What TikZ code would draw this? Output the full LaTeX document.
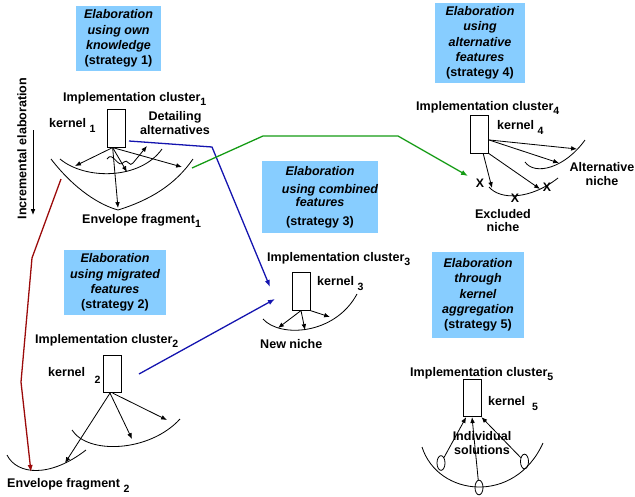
\documentclass[tikz,border=0pt]{standalone}
\usepackage{fontspec}
\setmainfont{Liberation Sans}
\usetikzlibrary{shapes.geometric,arrows.meta}
\definecolor{stratblue}{RGB}{135,205,255}
\definecolor{linkblue}{RGB}{20,20,175}
\definecolor{linkgreen}{RGB}{20,155,20}
\definecolor{linkred}{RGB}{155,10,10}
\newcommand\lowsub[2][-3.5pt]{\raisebox{#1}{\fontsize{9}{9}\selectfont #2}}
\tikzset{
  stratbox/.style={fill=stratblue, inner sep=0pt, align=center,
    font=\fontsize{10.7}{13}\selectfont\bfseries\itshape},
  kbox/.style={draw, line width=0.7pt, minimum width=0.54cm, minimum height=1.12cm, inner sep=0pt},
  lbl/.style={anchor=base west, inner sep=0pt, font=\fontsize{10.7}{11.3}\selectfont\bfseries},
  lbltwo/.style={lbl, anchor=center, align=center},
  xmark/.style={inner sep=0pt, font=\fontsize{10.5}{10.5}\selectfont\bfseries},
  sol/.style={draw, line width=0.7pt, ellipse, minimum width=0.24cm, minimum height=0.44cm, inner sep=0pt},
  thin/.style={line width=0.7pt},
  arr/.style={line width=0.7pt, -{Latex[length=5pt,width=4pt]}},
  link/.style={line width=1.1pt, -{Latex[length=6pt,width=4.5pt]}},
}
\begin{document}
\begin{tikzpicture}[x=0.03cm, y=-0.03cm]
\useasboundingbox (0,0) rectangle (635,497);

% strategies
\node[stratbox, minimum width=2.55cm, minimum height=1.95cm] (s1) at (118.5,38.5)
  {Elaboration\\using own\\knowledge\\\upshape(strategy 1)};
\node[stratbox, minimum width=3.06cm, minimum height=1.95cm] (s2) at (115,282.5)
  {Elaboration\\using migrated\\features\\\upshape(strategy 2)};
\node[stratbox, minimum width=3.45cm, minimum height=2.16cm] (s3) at (320,197)
  {Elaboration\\[3pt]\hspace*{17pt}using combined\\[-2pt]features\\[3pt]\upshape(strategy 3)};
\node[stratbox, minimum width=2.7cm, minimum height=2.4cm] (s4) at (480,43)
  {Elaboration\\using\\alternative\\features\\\upshape(strategy 4)};
\node[stratbox, minimum width=2.76cm, minimum height=2.58cm] (s5) at (478,295)
  {Elaboration\\through\hspace*{12pt}\\kernel\hspace*{14pt}\\aggregation\hspace*{8pt}\\\upshape(strategy 5)};

% incremental elaboration
\node[lbl, anchor=center, rotate=90] (inc) at (22,148.5) {Incremental elaboration};
\coordinate (incA) at (33,130);
\coordinate (incB) at (33,215);
\draw[arr] (incA) -- (incB);

% cluster 1
\node[lbl] (c1) at (63,101) {Implementation cluster\lowsub{1}};
\node[kbox] (k1) at (116,128.5) {};
\node[lbl] (n1) at (49,127) {kernel \lowsub[-5pt]{1}};
\node[lbltwo] (d1) at (175,123) {Detailing\\alternatives};
\draw[thin] (60,159) .. controls (85,180) and (140,180) .. (162,149);
\draw[thin] (51,159) .. controls (75,190) and (100,205) .. (118,210)
  .. controls (150,200) and (175,185) .. (193,159);
\draw[arr] (k1.-100) -- (75,166);
\draw[arr] (k1.-100) -- (127,172);
\draw[arr] (k1.-100) -- (182,167);
\draw[arr] (k1.-100) -- (118,208);
\draw[arr] (107,159) .. controls (113,150) and (118,170) .. (124,162)
  .. controls (127,158) and (130,168) .. (133,163) -- (147,146);
\node[lbl] (f1) at (82,223) {Envelope fragment\lowsub{1}};

% cluster 2
\node[lbl] (c2) at (35,343) {Implementation cluster\lowsub{2}};
\node[kbox] (k2) at (112,374) {};
\node[lbl] (n2) at (48,376) {kernel\hspace{8pt}\lowsub[-6pt]{2}};
\draw[thin] (72,430) .. controls (88,455) and (150,452) .. (180,419);
\draw[thin] (7,455) .. controls (17,475) and (50,478) .. (86,450);
\draw[arr] (k2.-96) -- (65,463);
\draw[arr] (k2.-96) -- (132,439);
\draw[arr] (k2.-88) -- (167,420);
\node[lbl] (f2) at (7,487) {Envelope fragment \lowsub[-5pt]{2}};

% cluster 3
\node[lbl] (c3) at (267,261) {Implementation cluster\lowsub{3}};
\node[kbox] (k3) at (301,291.5) {};
\node[lbl] (n3) at (317,285) {kernel \lowsub[-5pt]{3}};
\draw[thin] (263,319) .. controls (280,338) and (335,335) .. (357,294);
\draw[arr] (k3.south) -- (278,328);
\draw[arr] (k3.south) -- (305,330);
\draw[arr] (k3.south east) -- (330,317);
\node[lbl] (m3) at (260,348) {New niche};

% cluster 4
\node[lbl] (c4) at (416,110) {Implementation cluster\lowsub{4}};
\node[kbox] (k4) at (479.5,134.5) {};
\node[lbl] (n4) at (497,129) {kernel \lowsub[-5pt]{4}};
\draw[thin] (525,162) .. controls (535,176) and (565,168) .. (585,140);
\draw[thin] (489,187) .. controls (500,200) and (530,200) .. (558,178);
\draw[arr] (k4.-30) -- (577,149);
\draw[arr] (k4.-30) -- (559,163);
\draw[arr] (k4.-79) -- (492,188);
\draw[arr] (k4.south east) -- (540,189);
\node[xmark] (x1) at (480,183) {X};
\node[xmark] (x2) at (515,198) {X};
\node[xmark] (x3) at (547,187) {X};
\node[lbltwo] (a4) at (602,174) {Alternative\\niche};
\node[lbltwo] (e4) at (503,220.5) {Excluded\\niche};

% cluster 5
\node[lbl] (c5) at (410,376) {Implementation cluster\lowsub{5}};
\node[kbox] (k5) at (472,398) {};
\node[lbl] (n5) at (488,405) {kernel\hspace{6pt}\lowsub[-5pt]{5}};
\draw[thin] (422,447) .. controls (438,497) and (515,505) .. (543,443);
\node[sol] (o1) at (441,463) {};
\node[sol] (o2) at (479,487.5) {};
\node[sol] (o3) at (524.5,461.5) {};
\draw[arr] (o1) -- (k5.-107);
\draw[arr] (o2) -- (k5.-90);
\draw[arr] (o3) -- (k5.south east);
\node[lbltwo] (i5) at (482,443) {Individual\\solutions};

% links between clusters
\coordinate (b1s) at (129,141);
\coordinate (b1m) at (212,147);
\coordinate (b1e) at (270,287);
\draw[link, linkblue] (b1s) -- (b1m) -- (b1e);
\coordinate (b2s) at (139,374);
\coordinate (b2e) at (275,299);
\draw[link, linkblue] (b2s) -- (b2e);
\coordinate (g0) at (192,168);
\coordinate (g1) at (263,136);
\coordinate (g2) at (398,136);
\coordinate (g3) at (468,176);
\draw[link, linkgreen] (g0) -- (g1) -- (g2) -- (g3);
\coordinate (r0) at (61,179);
\coordinate (r1) at (32,258);
\coordinate (r2) at (21,382);
\coordinate (r3) at (31,472);
\draw[link, linkred] (r0) -- (r1) -- (r2) -- (r3);

\end{tikzpicture}
\end{document}
